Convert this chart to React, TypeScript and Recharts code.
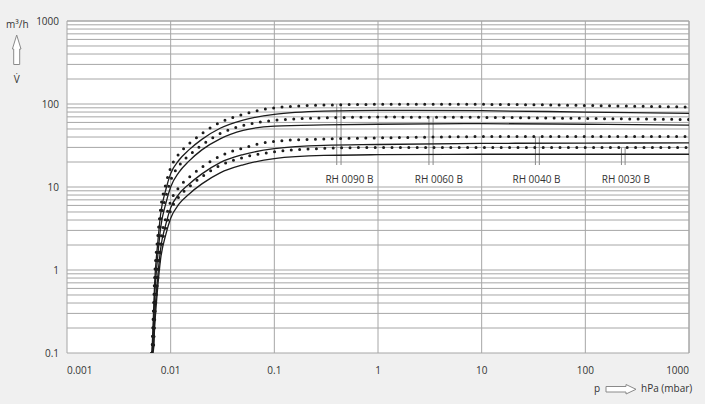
import React from 'react'
import {
  LineChart,
  Line,
  XAxis,
  YAxis,
  CartesianGrid,
  ReferenceLine,
  ReferenceDot,
} from 'recharts'

// ─── Data ─────────────────────────────────────────────────────────────────────

// pressure p in hPa (mbar)
const pressure = [0.0066, 0.0068, 0.007, 0.0075, 0.008, 0.009, 0.01, 0.012, 0.015, 0.02, 0.03, 0.05, 0.1, 0.3, 1, 10, 100, 1000]

// pumping speed V̇ in m³/h — dotted = higher speed, solid = lower speed
const rh0090Dot = [0.1, 0.3, 0.8, 2.5, 5.5, 11, 17, 25, 33, 44, 60, 75, 90, 97, 99, 99, 96, 92]
const rh0090Sol = [0.1, 0.26, 0.68, 2.1, 4.7, 9.4, 14.5, 21, 28, 37.5, 51, 64, 75, 82, 84, 83, 80, 77]
const rh0060Dot = [0.1, 0.21, 0.56, 1.75, 3.85, 7.7, 12, 18, 24, 32, 44, 55, 63.5, 68, 69.5, 69, 67, 65]
const rh0060Sol = [0.1, 0.18, 0.46, 1.45, 3.2, 6.4, 10, 15, 20.5, 28, 38, 48, 54, 56, 57, 58, 57, 55.5]
const rh0040Dot = [0.1, 0.13, 0.32, 1.0, 2.2, 4.3, 6.7, 9.9, 13, 17.3, 23.6, 29.5, 35.5, 38, 39, 40.5, 40.5, 40.5]
const rh0040Sol = [0.1, 0.11, 0.26, 0.82, 1.8, 3.6, 5.6, 8.2, 10.8, 14.4, 19.7, 24.6, 29, 31.8, 32.5, 33.5, 33.8, 34]
const rh0030Dot = [0.1, 0.11, 0.24, 0.76, 1.67, 3.3, 5.2, 7.6, 10, 13.3, 18.2, 22.7, 26.5, 29.2, 30, 30, 30, 30]
const rh0030Sol = [0.1, 0.105, 0.2, 0.62, 1.36, 2.7, 4.2, 6.2, 8.2, 10.9, 14.8, 18.5, 22, 24, 24.5, 24.8, 24.8, 24.8]

// axis ticks
const pTicks = [0.001, 0.01, 0.1, 1, 10, 100, 1000]
const vTicks = [0.1, 1, 10, 100, 1000]
const gridSteps = [2, 3, 4, 5, 6, 7, 8, 9]

// model labels and their pointer lines
const models = ['RH 0090 B', 'RH 0060 B', 'RH 0040 B', 'RH 0030 B']
const markerLeftP = [0.40, 3.1, 33, 223]
const markerRightP = [0.44, 3.4, 36, 242]
const markerTopV = [100, 69, 40.5, 30]
const markerBottomV = 18.4
const labelP = [0.53, 3.86, 33.8, 246]
const labelV = 12.5

// ─── Derived table ────────────────────────────────────────────────────────────

const rows = pressure.map((p, i) => ({
  p,
  d90: rh0090Dot[i],
  s90: rh0090Sol[i],
  d60: rh0060Dot[i],
  s60: rh0060Sol[i],
  d40: rh0040Dot[i],
  s40: rh0040Sol[i],
  d30: rh0030Dot[i],
  s30: rh0030Sol[i],
}))

// minor horizontal grid: 2..9 inside every decade
const minorGrid = vTicks.slice(0, -1).flatMap((d) => gridSteps.map((s) => d * s))

const FONT = '"Open Sans", "Noto Sans", sans-serif'
const INK = '#1c1c1c'
const TEXT = '#333'
const GRID = '#a6a6a6'

// ─── Ticks ────────────────────────────────────────────────────────────────────

function PTick({ x, y, payload }: any) {
  const v = payload.value
  const anchor = v === pTicks[0] ? 'start' : v === pTicks[pTicks.length - 1] ? 'end' : 'middle'
  return (
    <text x={x} y={y} dy="0.71em" textAnchor={anchor} fontSize={10} fill={TEXT} fontFamily={FONT}>
      {String(v)}
    </text>
  )
}

function VTick({ x, y, payload }: any) {
  return (
    <text x={x} y={y} dy="0.36em" textAnchor="end" fontSize={10} fill={TEXT} fontFamily={FONT}>
      {String(payload.value)}
    </text>
  )
}

// ─── Component ────────────────────────────────────────────────────────────────

export default function App() {
  const dotted = { strokeWidth: 3, strokeDasharray: '0 8.4', strokeLinecap: 'round' as const }
  const solid = { strokeWidth: 1.3 }

  return (
    <div style={{ position: 'relative', width: 705, height: 404, background: '#f0f0f0' }}>
      <style>{'body{margin:0;background:#f0f0f0}'}</style>
      <LineChart width={705} height={404} data={rows} margin={{ top: 21, right: 16, bottom: 21, left: 0 }}>
        <CartesianGrid fill="#ffffff" stroke={GRID} />
        <XAxis
          dataKey="p"
          type="number"
          scale="log"
          domain={[0.001, 1000]}
          ticks={pTicks}
          allowDataOverflow
          axisLine={false}
          tickLine={false}
          tickMargin={8}
          height={30}
          tick={<PTick />}
        />
        <YAxis
          type="number"
          scale="log"
          domain={[0.1, 1000]}
          ticks={vTicks}
          allowDataOverflow
          axisLine={false}
          tickLine={false}
          width={67}
          tick={<VTick />}
        />

        {minorGrid.map((v) => (
          <ReferenceLine key={`g-${v}`} y={v} stroke={GRID} strokeWidth={1} />
        ))}
        <ReferenceLine x={1000} stroke={GRID} strokeWidth={1} />
        <ReferenceLine y={1000} stroke={GRID} strokeWidth={1} />

        {/* pointer lines from each model's curves down to its label */}
        {models.map((m, i) => (
          <ReferenceLine
            key={`${m}-a`}
            segment={[{ x: markerLeftP[i], y: markerTopV[i] }, { x: markerLeftP[i], y: markerBottomV }]}
            stroke="#8a8a8a"
            strokeWidth={1}
          />
        ))}
        {models.map((m, i) => (
          <ReferenceLine
            key={`${m}-b`}
            segment={[{ x: markerRightP[i], y: markerTopV[i] }, { x: markerRightP[i], y: markerBottomV }]}
            stroke="#8a8a8a"
            strokeWidth={1}
          />
        ))}

        <Line dataKey="s90" type="monotone" stroke={INK} {...solid} dot={false} activeDot={false} isAnimationActive={false} />
        <Line dataKey="s60" type="monotone" stroke={INK} {...solid} dot={false} activeDot={false} isAnimationActive={false} />
        <Line dataKey="s40" type="monotone" stroke={INK} {...solid} dot={false} activeDot={false} isAnimationActive={false} />
        <Line dataKey="s30" type="monotone" stroke={INK} {...solid} dot={false} activeDot={false} isAnimationActive={false} />
        <Line dataKey="d90" type="monotone" stroke={INK} {...dotted} dot={false} activeDot={false} isAnimationActive={false} />
        <Line dataKey="d60" type="monotone" stroke={INK} {...dotted} dot={false} activeDot={false} isAnimationActive={false} />
        <Line dataKey="d40" type="monotone" stroke={INK} {...dotted} dot={false} activeDot={false} isAnimationActive={false} />
        <Line dataKey="d30" type="monotone" stroke={INK} {...dotted} dot={false} activeDot={false} isAnimationActive={false} />

        {models.map((m, i) => (
          <ReferenceDot
            key={m}
            x={labelP[i]}
            y={labelV}
            r={0}
            shape={(props: any) => (
              <text
                x={props.cx}
                y={props.cy}
                dy="0.36em"
                textAnchor="middle"
                fontSize={10}
                fill={TEXT}
                fontFamily={FONT}
              >
                {m}
              </text>
            )}
          />
        ))}
      </LineChart>

      {/* axis titles with outline arrows */}
      <svg
        width={705}
        height={404}
        style={{ position: 'absolute', left: 0, top: 0, pointerEvents: 'none' }}
      >
        <text x={6} y={27.5} fontSize={10} fill={TEXT} fontFamily={FONT}>m³/h</text>
        <polygon
          points="16.7,35 21,49 19.7,49 19.7,64.5 13.7,64.5 13.7,49 12.4,49"
          fill="#ffffff"
          stroke="#8a8a8a"
          strokeWidth={1}
        />
        <text x={16.7} y={83} textAnchor="middle" fontSize={10} fill={TEXT} fontFamily={FONT}>V̇</text>

        <text x={597} y={392} textAnchor="middle" fontSize={10} fill={TEXT} fontFamily={FONT}>p</text>
        <polygon
          points="606,386.5 626,386.5 626,384.5 636,389.3 626,394 626,392 606,392"
          fill="#ffffff"
          stroke="#8a8a8a"
          strokeWidth={1}
        />
        <text x={641} y={392} fontSize={10} fill={TEXT} fontFamily={FONT}>hPa (mbar)</text>
      </svg>
    </div>
  )
}
